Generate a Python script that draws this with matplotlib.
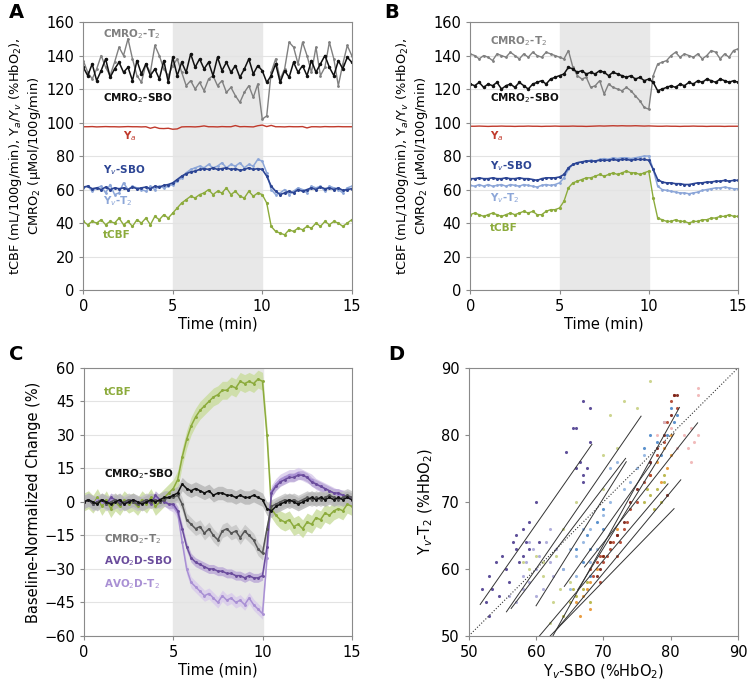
import numpy as np
from matplotlib import pyplot as plt

# time axis, every 0.25 min
t = np.arange(0, 15.01, 0.25)

# ---- panel A (single subject) ----
a_cmro2_t2 = [137, 130, 126, 132, 140, 133, 128, 136, 145, 140, 150, 138,
              128, 124, 135, 130, 146, 140, 132, 128, 134, 138, 130, 122,
              125, 120, 124, 119, 126, 128, 122, 125, 118, 121, 116, 112,
              118, 122, 115, 123, 102, 104, 130, 138, 126, 132, 148, 145,
              135, 148, 140, 130, 145, 128, 133, 148, 138, 122, 135, 146,
              140]
a_cmro2_sbo = [133, 128, 135, 125, 131, 138, 127, 132, 136, 130, 133, 125,
               137, 129, 135, 128, 132, 126, 137, 124, 139, 128, 136, 130,
               141, 133, 138, 132, 136, 128, 139, 131, 136, 130, 134, 127,
               132, 138, 129, 134, 131, 124, 128, 135, 124, 131, 127, 136,
               130, 134, 128, 137, 130, 135, 140, 133, 128, 137, 132, 139,
               136]
a_ya = [97.5, 97.5, 97.6, 97.4, 97.5, 97.6, 97.5, 97.5, 97.4, 97.5, 97.6, 97.5,
        97.5, 97.4, 97.5, 96.6, 97.3, 96.5, 96.4, 96.6, 96.0, 96.2, 97.4, 97.5,
        97.5, 97.4, 97.6, 98.0, 97.5, 97.5, 97.4, 97.6, 97.5, 97.5, 98.2, 97.5,
        97.6, 97.5, 97.4, 98.1, 98.5, 97.6, 98.3, 97.5, 97.5, 97.4, 97.6, 97.5,
        97.5, 97.6, 96.8, 97.5, 97.5, 97.4, 97.6, 97.5, 97.5, 97.6, 97.5, 97.5,
        97.5]
a_yv_sbo = [61.5, 62, 60.5, 61, 60, 61.5, 60, 61, 60.5, 61, 60, 61.5,
            60.5, 61, 61.5, 60.5, 62, 61.5, 62.5, 63, 64, 66, 68, 69.5,
            70.5, 71, 72, 72.5, 72, 73, 72, 72.5, 73, 72, 72.5, 71.5,
            72, 73, 72, 72.5, 72, 68, 62, 59, 57, 58, 59, 58,
            60, 59, 60, 61, 60, 61.5, 60.5, 61, 60, 61, 59.5, 60,
            60.5]
a_yv_t2 = [61, 62, 59, 61, 62, 58, 63, 57, 58, 64, 60, 62,
           61, 60, 59, 62, 60, 62, 61, 62, 63, 65, 67, 70,
           72, 73, 74, 73, 75, 73, 74, 76, 73, 75, 74, 76,
           73, 75, 74, 78, 77, 70, 60, 57, 58, 60, 57, 59,
           61, 60, 58, 62, 61, 62, 59, 62, 61, 60, 58, 61,
           62]
a_tcbf = [41, 39, 41, 40, 42, 39, 41, 40, 43, 39, 41, 38,
          42, 40, 43, 39, 44, 42, 45, 43, 46, 49, 52, 54,
          56, 55, 57, 58, 60, 57, 59, 58, 61, 57, 59, 56,
          55, 59, 56, 58, 57, 52, 38, 35, 34, 33, 36, 35,
          37, 36, 38, 37, 40, 38, 41, 39, 41, 40, 38, 40,
          42]

# ---- panel B (another subject) ----
b_cmro2_t2 = [141, 140, 138, 140, 139, 137, 141, 140, 139, 142, 140, 138,
              141, 139, 142, 140, 139, 142, 141, 140, 139, 138, 143, 133,
              128, 126, 127, 121, 122, 125, 117, 123, 121, 120, 119, 121,
              119, 116, 113, 109, 108, 128, 135, 136, 137, 140, 142, 139,
              141, 140, 139, 141, 138, 140, 143, 142, 138, 141, 139, 143,
              144]
b_cmro2_sbo = [123, 122, 124, 121, 123, 122, 124, 120, 122, 123, 121, 124,
               122, 120, 123, 124, 125, 123, 126, 127, 128, 129, 133, 132,
               130, 131, 129, 130, 129, 131, 130, 128, 130, 129, 128, 127,
               128, 126, 127, 125, 126, 124, 119, 120, 121, 122, 121, 123,
               122, 124, 123, 125, 124, 126, 125, 124, 126, 125, 124, 125,
               124]
b_ya = [97.8, 97.8, 97.9, 97.8, 97.7, 97.8, 97.8, 97.9, 97.8, 97.8, 97.7, 97.8,
        97.8, 97.9, 97.8, 97.8, 97.7, 97.8, 97.8, 97.9, 97.8, 97.8, 97.8, 97.9,
        97.8, 97.8, 97.7, 97.8, 97.9, 98.0, 97.9, 98.0, 98.1, 98.0, 98.1, 98.0,
        98.0, 98.1, 98.0, 97.9, 98.0, 97.9, 97.8, 97.8, 97.9, 97.8, 97.8, 97.7,
        97.8, 97.8, 97.9, 97.8, 97.8, 97.7, 97.8, 97.8, 97.8, 97.7, 97.8, 97.8,
        97.8]
b_yv_sbo = [66.5, 66.5, 67, 66.5, 66.5, 67, 66.5, 66.5, 67, 66.5, 66.5, 67,
            66.5, 66.5, 66, 65.5, 66.5, 67, 67, 67, 67.5, 69, 73, 75,
            76, 76.5, 77, 77, 77, 77.5, 77.5, 77.5, 78, 77.5, 78, 78,
            77.5, 78, 78, 78, 77.5, 72, 66, 64.5, 64, 64, 63.5, 63.5,
            63, 63, 63.5, 64, 64, 64.5, 64.5, 65, 65, 65.5, 65, 65.5,
            65.5]
b_yv_t2 = [62.5, 62, 63, 62, 63, 62, 62.5, 63, 62, 63, 62.5, 62,
           63, 62.5, 62, 61.5, 62.5, 63, 62.5, 63, 64, 67, 72, 75,
           76, 76.5, 77, 77.5, 77, 78, 78.5, 78, 79, 78.5, 79, 79,
           78.5, 79, 79.5, 80, 80, 72, 62, 60, 59.5, 59, 58.5, 58,
           58, 57.5, 58, 58.5, 59.5, 60, 60.5, 61, 61, 61.5, 61, 60.5,
           60.5]
b_tcbf = [45, 46, 45, 44, 45, 46, 45, 44, 45, 46, 45, 46,
          47, 46, 47, 45, 45, 47, 48, 48, 49, 53, 61, 64,
          65, 66, 67, 67, 68, 69, 68, 69, 70, 69, 70, 71,
          70, 70, 69, 70, 71, 55, 43, 42, 41, 41, 42, 41,
          41, 40, 41, 41, 42, 42, 43, 43, 44, 44, 45, 44,
          44]

# ---- panel C (group mean, baseline-normalized %) ----
c_tcbf = [0, 1, -1, 2, -2, 1, -3, 0, -2, 1, -1, 0,
          -2, 1, -1, 2, -2, 0, 2, 4, 6, 10, 20, 28,
          34, 38, 41, 43, 45, 47, 48, 50, 50, 52, 51, 54,
          53, 54, 53, 55, 54, 30, -3, -6, -8, -9, -8, -11,
          -10, -12, -9, -10, -7, -8, -5, -6, -4, -3, -4, -1,
          -2]
c_cmro2_sbo = [0, 1, 0, -1, 1, 0, -1, 0, 1, -1, 0, 1,
               0, -1, 0, 1, 0, 1, 2, 2, 3, 4, 8, 6,
               5, 6, 5, 4, 5, 3, 4, 4, 3, 3, 2, 3,
               2, 2, 3, 2, 1, -3, -4, -2, -1, 0, 1, 0,
               -1, 0, 1, 2, 1, 2, 1, 2, 1, 2, 1, 2,
               1]
c_cmro2_t2 = [0, 1, -1, 0, 1, -1, 0, 1, -1, 0, 1, 0,
              -1, 0, 1, 0, 1, 0, 1, 2, 2, 3, -1, -8,
              -10, -12, -11, -14, -12, -15, -17, -13, -12, -14, -13, -16,
              -13, -15, -17, -21, -23, -12, -2, -1, 0, 1, 0, 1,
              0, 1, 2, 1, 2, 1, 2, 3, 2, 1, 2, 3,
              2]
c_avo2d_sbo = [0, 1, -1, 0, 1, -1, 2, 1, 0, -1, 1, 0,
               -1, 0, 1, -1, 3, 1, 0, -1, -1, -4, -12, -20,
               -25, -27, -28, -29, -30, -30, -31, -31, -32, -32, -33, -33,
               -34, -33, -34, -34, -33, -20, 4, 7, 9, 10, 11, 11,
               12, 12, 11, 9, 8, 7, 6, 5, 4, 4, 3, 2,
               2]
c_avo2d_t2 = [0, 1, -1, 1, 0, -1, 1, 0, 1, -1, 0, 1,
              0, -1, 1, 0, 2, 0, 1, -1, -2, -5, -18, -30,
              -36, -38, -40, -42, -41, -43, -45, -42, -44, -43, -45, -44,
              -46, -43, -46, -48, -50, -25, 5, 8, 10, 11, 12, 12,
              13, 12, 11, 10, 8, 7, 6, 5, 4, 3, 3, 2,
              1]
# standard errors (%)
c_se = {'tcbf': 4, 'cmro2_sbo': 3, 'cmro2_t2': 3, 'avo2d_sbo': 2, 'avo2d_t2': 2.5}

# ---- panel D (Yv-SBO vs Yv-T2 per subject) ----
d_x = [
    [52, 52.5, 53, 53.5, 54, 54.5, 55, 55.5, 56, 56.5, 57, 57.5, 58, 58.5, 59, 59, 60, 60.5,
     64.5, 65.5, 66, 66.5, 67, 67, 67.5, 68, 68, 66, 67, 58, 57, 53],
    [56, 57, 58, 58.5, 59, 59.5, 60, 60.5, 61, 61.5, 62, 62.5, 63, 60, 59, 64, 62, 58],
    [58, 59, 60, 61, 62, 62.5, 63, 64, 65, 70, 71, 72, 73, 70, 63.5, 61, 77, 75, 66],
    [64, 65, 66, 67, 68, 69, 70, 71, 72, 73, 74, 75, 65, 66, 71, 76, 67, 68],
    [66, 67, 67.5, 68, 69, 70, 76, 77, 78, 79, 80, 80.5, 79.5, 78.5, 68, 70, 77, 81],
    [66, 67, 67.5, 68, 69, 70, 71, 72, 77, 78, 79, 79.5, 80, 68, 66.5, 78.5, 80],
    [64, 65, 66, 67, 68, 77, 78, 78.5, 79, 77.5, 76.5, 79, 65.5, 67.5, 76],
    [68, 68.5, 69, 69.5, 70, 71, 71.5, 72, 72.5, 73, 73.5, 74, 75, 76, 77, 78, 79, 79.5,
     80, 80.5, 81, 70.5, 69.5, 72],
    [69, 70, 71, 72, 73, 74, 75, 77, 78, 79, 80, 80.5, 81, 69.5, 79.5],
    [81, 82, 83, 83.5, 84, 84, 84, 82.5, 83, 78, 79, 80],
]
d_y = [
    [57, 55, 59, 57, 61, 56, 62, 60, 58, 64, 63, 61, 66, 64, 67, 63, 70, 64,
     77.5, 81, 81, 76, 85, 74, 75, 84, 79, 75, 73, 62, 65, 53],
    [56, 55, 59, 61, 58, 63, 60, 62, 57, 64, 61, 59, 63, 56, 64, 60, 66, 57],
    [61, 60, 62, 61, 52, 55, 62, 66, 58, 77, 83, 78, 85, 72, 57, 59, 88, 84, 70],
    [60, 63, 62, 64, 66, 63, 68, 75, 76, 72, 73, 75, 57, 59, 70, 77, 66, 61],
    [63, 61, 65, 63, 67, 66, 78, 80, 79, 82, 84, 82, 80, 77, 59, 69, 76, 83],
    [55, 56, 57, 58, 60, 62, 64, 66, 74, 76, 78, 75, 80, 54, 53, 73, 77],
    [53, 55, 56, 57, 55, 71, 72, 70, 73, 69, 72, 74, 57, 58, 70],
    [60, 59, 61, 62, 61, 63, 64, 65, 64, 66, 67, 69, 70, 73, 74, 77, 79, 82,
     85, 86, 84, 62, 58, 62],
    [59, 62, 64, 65, 67, 70, 72, 76, 78, 80, 83, 86, 86, 60, 71],
    [78, 80, 81, 79, 80, 86, 87, 78, 76, 80, 82, 81],
]
d_colors = ['#4e3d8f', '#a9a6d8', '#c8d184', '#8fb3e0', '#4a86c8',
            '#e8942e', '#b5b340', '#b0402a', '#7a1f14', '#f0b4b4']
# per-subject regression lines: (x0, y0, x1, y1)
d_fits = [(51.7, 54.7, 68.3, 78.6), (55.6, 53.6, 75.6, 82.8), (56.3, 54.1, 73.3, 76.5),
          (60.0, 54.5, 73.4, 76.0), (64.2, 57.4, 77.1, 75.7), (60.5, 50.0, 79.6, 72.7),
          (62.1, 50.0, 80.5, 69.0), (62.5, 50.0, 81.3, 84.1), (66.2, 56.9, 80.5, 80.2),
          (67.2, 60.3, 84.0, 81.8), (63.0, 50.9, 81.5, 73.3)]

# colours
c_gray = '#808080'
c_black = '#111111'
c_red = '#c0392b'
c_dblue = '#2c4594'
c_lblue = '#8ca6d8'
c_green = '#8cab3c'
c_purple = '#6a4c9c'
c_lpurple = '#a990d4'

fig = plt.figure(figsize=(7.5, 6.89), dpi=100)


def style_axes(ax):
    for s in ax.spines.values():
        s.set_color('#8a8a8a')
        s.set_linewidth(0.8)
    ax.tick_params(labelsize=10.5, color='#8a8a8a', length=3)
    ax.axvspan(5, 10, color='#e8e8e8', zorder=0)
    ax.set_xlim(0, 15)
    ax.set_xticks([0, 5, 10, 15])
    ax.set_xlabel('Time (min)', fontsize=10.5, labelpad=2)


def raw_panel(ax, cmro2_t2, cmro2_sbo, ya, yv_sbo, yv_t2, tcbf, lab):
    style_axes(ax)
    ax.set_ylim(0, 160)
    ax.set_yticks(range(0, 161, 20))
    ax.yaxis.grid(True, color='#e3e3e3', lw=0.8)
    ax.set_axisbelow(True)
    ax.plot(t, cmro2_t2, color=c_gray, lw=1.0, marker='o', ms=1.0)
    ax.plot(t, cmro2_sbo, color=c_black, lw=1.1, marker='o', ms=1.5)
    ax.plot(t, ya, color=c_red, lw=1.0)
    ax.plot(t, yv_t2, color=c_lblue, lw=1.1, marker='o', ms=1.0)
    ax.plot(t, yv_sbo, color=c_dblue, lw=1.2, marker='o', ms=1.2)
    ax.plot(t, tcbf, color=c_green, lw=1.0, marker='o', ms=1.3)
    ax.set_ylabel('tCBF (mL/100g/min), Y$_a$/Y$_v$ (%HbO$_2$),\nCMRO$_2$ (\u00b5Mol/100g/min)',
                  fontsize=9.4, labelpad=2)
    kw = dict(fontsize=7.5, fontweight='bold')
    ax.text(lab[0][0], lab[0][1], 'CMRO$_2$-T$_2$', color=c_gray, **kw)
    ax.text(lab[1][0], lab[1][1], 'CMRO$_2$-SBO', color=c_black, **kw)
    ax.text(lab[2][0], lab[2][1], 'Y$_a$', color=c_red, **kw)
    ax.text(lab[3][0], lab[3][1], 'Y$_v$-SBO', color=c_dblue, **kw)
    ax.text(lab[4][0], lab[4][1], 'Y$_v$-T$_2$', color=c_lblue, **kw)
    ax.text(lab[5][0], lab[5][1], 'tCBF', color=c_green, **kw)


axA = fig.add_axes([0.111, 0.579, 0.358, 0.389])
raw_panel(axA, a_cmro2_t2, a_cmro2_sbo, a_ya, a_yv_sbo, a_yv_t2, a_tcbf,
          [(1.1, 151), (1.1, 113), (2.2, 90), (1.1, 70), (1.1, 51), (1.1, 31)])

axB = fig.add_axes([0.627, 0.579, 0.357, 0.389])
raw_panel(axB, b_cmro2_t2, b_cmro2_sbo, b_ya, b_yv_sbo, b_yv_t2, b_tcbf,
          [(1.1, 147), (1.1, 113), (1.1, 90), (1.1, 72), (1.1, 53), (1.1, 35)])

# panel C
axC = fig.add_axes([0.112, 0.077, 0.357, 0.389])
style_axes(axC)
axC.set_ylim(-60, 60)
axC.set_yticks(range(-60, 61, 15))
axC.yaxis.grid(True, color='#e3e3e3', lw=0.8)
axC.set_axisbelow(True)
series_c = [(c_tcbf, c_se['tcbf'], c_green, '#c9dc9c'),
            (c_avo2d_t2, c_se['avo2d_t2'], c_lpurple, '#d8caeb'),
            (c_avo2d_sbo, c_se['avo2d_sbo'], c_purple, '#b9a6d6'),
            (c_cmro2_t2, c_se['cmro2_t2'], '#555555', '#c4c4c4'),
            (c_cmro2_sbo, c_se['cmro2_sbo'], c_black, '#b5b5b5')]
for vals, se, col, band in series_c:
    v = np.array(vals, dtype=float)
    axC.fill_between(t, v - se, v + se, color=band, lw=0, alpha=0.8)
    axC.plot(t, v, color=col, lw=1.1, marker='o', ms=1.1)
axC.set_ylabel('Baseline-Normalized Change (%)', fontsize=10.5, labelpad=2)
kw = dict(fontsize=7.5, fontweight='bold')
axC.text(1.1, 48, 'tCBF', color=c_green, **kw)
axC.text(1.1, 11, 'CMRO$_2$-SBO', color=c_black, **kw)
axC.text(1.1, -18, 'CMRO$_2$-T$_2$', color='#7a7a7a', **kw)
axC.text(1.1, -28, 'AVO$_2$D-SBO', color=c_purple, **kw)
axC.text(1.1, -38, 'AVO$_2$D-T$_2$', color=c_lpurple, **kw)

# panel D
axD = fig.add_axes([0.625, 0.077, 0.359, 0.389])
for s in axD.spines.values():
    s.set_color('#8a8a8a')
    s.set_linewidth(0.8)
axD.tick_params(labelsize=10.5, color='#8a8a8a', length=3)
for xs, ys, col in zip(d_x, d_y, d_colors):
    axD.scatter(xs, ys, s=5, color=col, lw=0, alpha=0.9)
for x0, y0, x1, y1 in d_fits:
    axD.plot([x0, x1], [y0, y1], color='#333333', lw=0.7)
axD.plot([50, 90], [50, 90], color='#333333', lw=0.8, ls=':')
axD.set_xlim(50, 90)
axD.set_ylim(50, 90)
axD.set_xticks([50, 60, 70, 80, 90])
axD.set_yticks([50, 60, 70, 80, 90])
axD.set_xlabel('Y$_v$-SBO (%HbO$_2$)', fontsize=10.5, labelpad=2)
axD.set_ylabel('Y$_v$-T$_2$ (%HbO$_2$)', fontsize=10.5, labelpad=4)

# panel letters
for x, y, letter in [(0.012, 0.982, 'A'), (0.513, 0.982, 'B'),
                     (0.012, 0.485, 'C'), (0.517, 0.485, 'D')]:
    fig.text(x, y, letter, fontsize=14, fontweight='bold', va='center')

plt.savefig('out.png', dpi=100)
